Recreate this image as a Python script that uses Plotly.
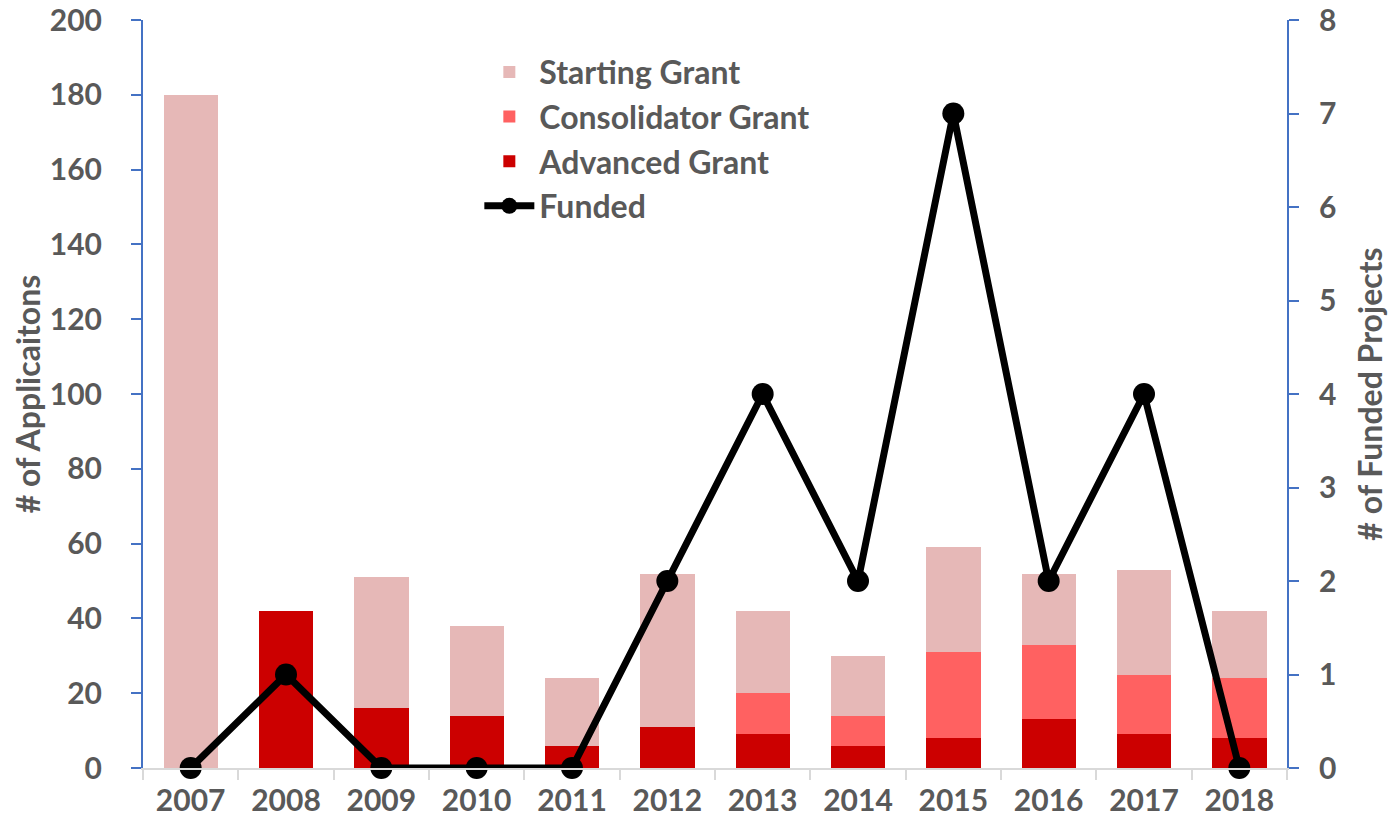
import plotly.graph_objects as go

years = ["2007", "2008", "2009", "2010", "2011", "2012", "2013", "2014", "2015", "2016", "2017", "2018"]
advanced = [0, 42, 16, 14, 6, 11, 9, 6, 8, 13, 9, 8]
consolidator = [0, 0, 0, 0, 0, 0, 11, 8, 23, 20, 16, 16]
starting = [180, 0, 35, 24, 18, 41, 22, 16, 28, 19, 28, 18]
funded = [0, 1, 0, 0, 0, 2, 4, 2, 7, 2, 4, 0]

FONT = "Lato"
TXT = "#595959"
BLUE = "#4472C4"

fig = go.Figure()
fig.add_trace(go.Bar(x=years, y=advanced, name="Advanced Grant", marker_color="#CC0000",
                     marker_line_width=0, legendrank=3))
fig.add_trace(go.Bar(x=years, y=consolidator, name="Consolidator Grant", marker_color="#FF6161",
                     marker_line_width=0, legendrank=2))
fig.add_trace(go.Bar(x=years, y=starting, name="Starting Grant", marker_color="#E6B8B7",
                     marker_line_width=0, legendrank=1))
fig.add_trace(go.Scatter(x=years, y=funded, name="Funded", yaxis="y2", mode="lines+markers",
                         line=dict(color="black", width=7), marker=dict(color="black", size=22),
                         cliponaxis=False, legendrank=4))

tickfont = dict(family=FONT, size=30, color=TXT, weight="bold")
titlefont = dict(family=FONT, size=32, color=TXT, weight="bold")

fig.update_layout(
    width=1389, height=828,
    barmode="stack", bargap=0.43,
    plot_bgcolor="white", paper_bgcolor="white",
    margin=dict(l=143, r=102, t=20, b=60, autoexpand=False),
    font=dict(family=FONT, size=30, color=TXT),
    showlegend=True,
    legend=dict(x=0.294, y=0.967, xanchor="left", yanchor="top", traceorder="normal",
                font=dict(family=FONT, size=32, color=TXT, weight="bold"),
                bgcolor="rgba(0,0,0,0)", itemwidth=50, tracegroupgap=0),
    xaxis=dict(type="category", range=[-0.5, len(years) - 0.5], showline=True,
               linecolor="#D9D9D9", linewidth=2,
               ticks="outside", tickson="boundaries", ticklen=10, tickcolor="#D9D9D9",
               tickwidth=2, showgrid=False, automargin=False, ticklabelstandoff=5,
               ticklabeloverflow="allow", tickfont=tickfont),
    yaxis=dict(range=[0, 200], dtick=20, showline=True, linecolor=BLUE, linewidth=2,
               ticks="outside", ticklen=10, tickcolor=BLUE, tickwidth=2, showgrid=False,
               zeroline=False, automargin=False, ticklabelstandoff=23,
               ticklabeloverflow="allow", tickfont=tickfont,
               title=dict(text="# of Applicaitons", standoff=0, font=titlefont)),
    yaxis2=dict(range=[0, 8], dtick=1, overlaying="y", side="right", showline=True,
                linecolor=BLUE, linewidth=2, ticks="outside", ticklen=10, tickcolor=BLUE,
                tickwidth=2, showgrid=False, zeroline=False, automargin=False,
                ticklabelstandoff=14, ticklabeloverflow="allow",
                tickfont=tickfont,
                title=dict(text="# of Funded Projects", standoff=34, font=titlefont)),
)

# remove the default page margin so the figure sits at the window's top-left corner
fig.write_html("out.html", config={"displayModeBar": False},
               post_script="document.body.style.margin='0';document.body.style.overflow='hidden';")
